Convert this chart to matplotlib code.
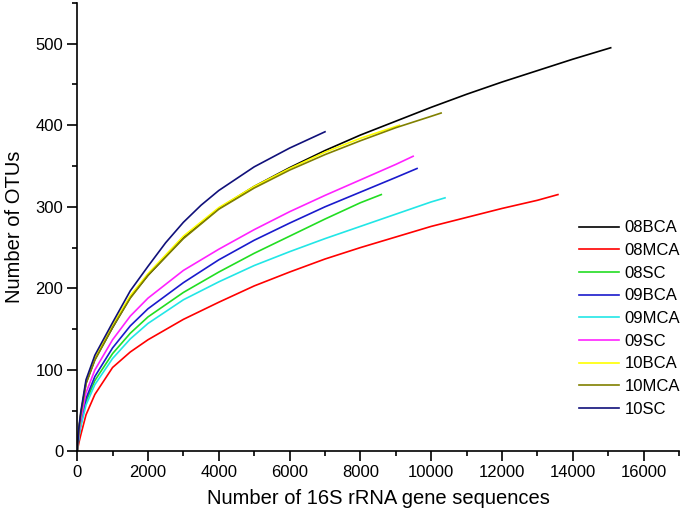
import numpy as np
import matplotlib
matplotlib.use('Agg')
import matplotlib.pyplot as plt
from matplotlib.ticker import MultipleLocator

plt.rcParams['font.family'] = ['Liberation Sans', 'DejaVu Sans']

samples = ['08BCA', '08MCA', '08SC', '09BCA', '09MCA', '09SC', '10BCA', '10MCA', '10SC']
colors = ['#000000', '#ff0000', '#22dd22', '#1a1acc', '#22e6e6', '#ff22ff', '#ffff00', '#808000', '#10107a']

x_08BCA = [0, 50, 100, 250, 500, 1000, 1500, 2000, 3000, 4000, 5000, 6000, 7000, 8000, 9000, 10000, 11000, 12000, 13000, 14000, 15070]
y_08BCA = [0, 28, 45, 84, 113, 152, 189, 216, 262, 298, 325, 348, 369, 388, 405, 422, 438, 453, 467, 481, 495]

x_08MCA = [0, 50, 100, 250, 500, 1000, 1500, 2000, 3000, 4000, 5000, 6000, 7000, 8000, 9000, 10000, 11000, 12000, 13000, 13580]
y_08MCA = [0, 11, 20, 45, 70, 103, 122, 137, 162, 183, 203, 220, 236, 250, 263, 276, 287, 298, 308, 315]

x_08SC = [0, 50, 100, 250, 500, 1000, 1500, 2000, 3000, 4000, 5000, 6000, 7000, 8000, 8590]
y_08SC = [0, 19, 32, 61, 87, 120, 145, 165, 195, 220, 243, 264, 285, 305, 315]

x_09BCA = [0, 50, 100, 250, 500, 1000, 1500, 2000, 3000, 4000, 5000, 6000, 7000, 8000, 9000, 9600]
y_09BCA = [0, 20, 34, 65, 92, 127, 154, 175, 207, 235, 259, 280, 300, 318, 336, 347]

x_09MCA = [0, 50, 100, 250, 500, 1000, 1500, 2000, 3000, 4000, 5000, 6000, 7000, 8000, 9000, 10000, 10390]
y_09MCA = [0, 18, 30, 57, 82, 114, 138, 157, 186, 208, 228, 245, 261, 276, 291, 306, 311]

x_09SC = [0, 50, 100, 250, 500, 1000, 1500, 2000, 3000, 4000, 5000, 6000, 7000, 8000, 9000, 9490]
y_09SC = [0, 23, 38, 72, 100, 137, 166, 188, 222, 248, 272, 294, 314, 333, 352, 362]

x_10BCA = [0, 50, 100, 250, 500, 1000, 1500, 2000, 3000, 4000, 5000, 6000, 7000, 8000, 9100]
y_10BCA = [0, 28, 46, 85, 115, 155, 191, 218, 264, 299, 325, 347, 367, 384, 400]

x_10MCA = [0, 50, 100, 250, 500, 1000, 1500, 2000, 3000, 4000, 5000, 6000, 7000, 8000, 9000, 10000, 10280]
y_10MCA = [0, 27, 44, 83, 112, 152, 188, 216, 261, 297, 323, 345, 364, 381, 397, 411, 415]

x_10SC = [0, 50, 100, 250, 500, 1000, 1500, 2000, 2500, 3000, 3500, 4000, 5000, 6000, 7000]
y_10SC = [0, 30, 48, 88, 118, 158, 197, 227, 256, 281, 302, 320, 349, 372, 392]

xs = [x_08BCA, x_08MCA, x_08SC, x_09BCA, x_09MCA, x_09SC, x_10BCA, x_10MCA, x_10SC]
ys = [y_08BCA, y_08MCA, y_08SC, y_09BCA, y_09MCA, y_09SC, y_10BCA, y_10MCA, y_10SC]

fig = plt.figure(figsize=(6.89, 5.21), dpi=100)
ax = fig.add_axes([0.112, 0.1334, 0.8735, 0.861])

for name, c, x, y in zip(samples, colors, xs, ys):
    ax.plot(x, y, color=c, lw=1.2, label=name)

ax.set_xlim(0, 17000)
ax.set_ylim(0, 550)
ax.xaxis.set_major_locator(MultipleLocator(2000))
ax.xaxis.set_minor_locator(MultipleLocator(1000))
ax.yaxis.set_major_locator(MultipleLocator(100))
ax.yaxis.set_minor_locator(MultipleLocator(50))
ax.set_xticks(np.arange(0, 16001, 2000))

for s in ['top', 'right']:
    ax.spines[s].set_visible(False)
for s in ['left', 'bottom']:
    ax.spines[s].set_linewidth(1.2)

ax.tick_params(which='major', direction='out', length=7, width=1.2, labelsize=12, pad=3)
ax.tick_params(which='minor', direction='out', length=3.5, width=1.2)

ax.set_xlabel('Number of 16S rRNA gene sequences', fontsize=14.5, labelpad=6)
ax.set_ylabel('Number of OTUs', fontsize=14.5, labelpad=8)

ax.legend(loc='upper left', bbox_to_anchor=(0.822, 0.53), frameon=False, fontsize=12,
          handlelength=2.45, handletextpad=0.3, labelspacing=0.46, borderaxespad=0)

fig.savefig('out.png', dpi=100)
